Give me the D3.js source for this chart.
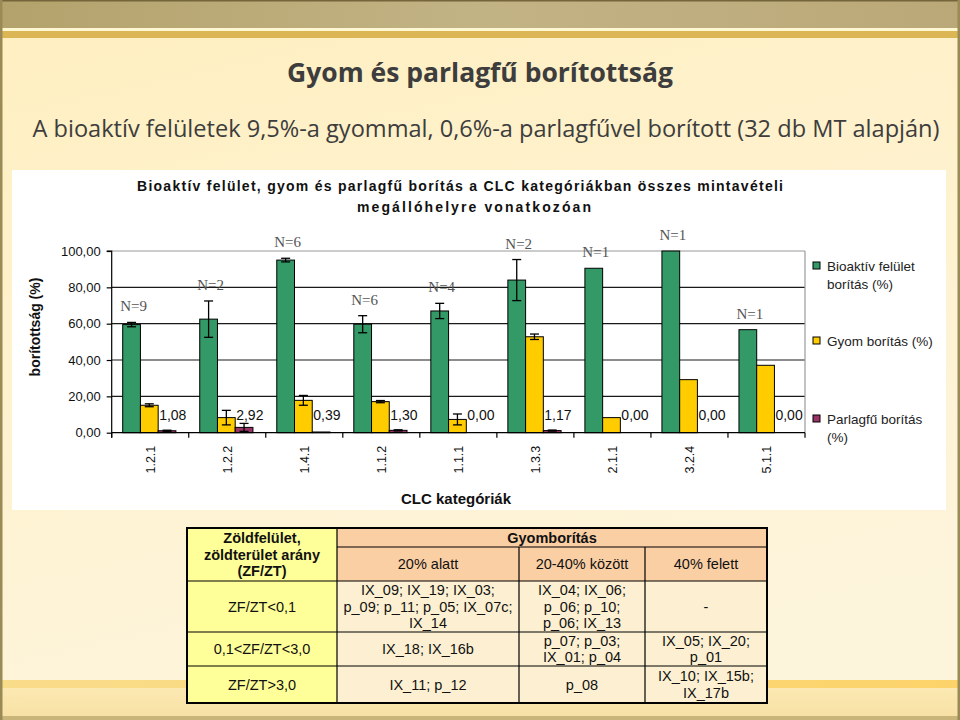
<!DOCTYPE html>
<html><head><meta charset="utf-8">
<script src="https://cdn.jsdelivr.net/npm/d3@7/dist/d3.min.js"></script>
<style>body{margin:0;background:#fff}svg{display:block}</style>
</head><body><svg id="c" width="960" height="720"></svg>
<script>
// ---------- DATA ----------
const categories   = ["1.2.1","1.2.2","1.4.1","1.1.2","1.1.1","1.3.3","2.1.1","3.2.4","5.1.1"];
const bioaktiv     = [59.5, 62.5, 95.0, 59.7, 67.0, 84.0, 90.5, 100.0, 56.7];
const bioaktivErr  = [1.2, 10.0, 1.0, 4.7, 4.2, 11.3, 0, 0, 0];
const gyom         = [15.1, 8.3, 17.8, 17.1, 7.3, 52.8, 8.3, 29.2, 37.1];
const gyomErr      = [0.8, 4.0, 2.7, 0.6, 3.0, 1.5, 0, 0, 0];
const parlagfu     = [1.08, 2.92, 0.39, 1.30, 0.00, 1.17, 0.00, 0.00, 0.00];
const parlagfuErr  = [0.3, 2.2, 0, 0.3, 0, 0.3, 0, 0, 0];
const nLabels      = ["N=9","N=2","N=6","N=6","N=4","N=2","N=1","N=1","N=1"];
const seriesNames  = ["Bioaktív felület borítás (%)","Gyom borítás (%)","Parlagfű borítás (%)"];
const yTicks       = [0, 20, 40, 60, 80, 100];

const mainTitle    = "Gyom és parlagfű borítottság";
const subTitle     = "A bioaktív felületek 9,5%-a gyommal, 0,6%-a parlagfűvel borított (32 db MT alapján)";
const chartTitle1  = "Bioaktív felület, gyom és parlagfű borítás a CLC kategóriákban összes mintavételi";
const chartTitle2  = "megállóhelyre vonatkozóan";
const yTitle       = "borítottság (%)";
const xTitle       = "CLC kategóriák";

const tableCorner   = ["Zöldfelület,","zöldterület arány","(ZF/ZT)"];
const tableGroup    = "Gyomborítás";
const tableColHeads = ["20% alatt","20-40% között","40% felett"];
const tableRowHeads = ["ZF/ZT<0,1","0,1<ZF/ZT<3,0","ZF/ZT>3,0"];
const tableCells = [
  [["IX_09; IX_19; IX_03;","p_09; p_11; p_05; IX_07c;","IX_14"], ["IX_04; IX_06;","p_06; p_10;","p_06; IX_13"], ["-"]],
  [["IX_18; IX_16b"], ["p_07; p_03;","IX_01; p_04"], ["IX_05; IX_20;","p_01"]],
  [["IX_11; p_12"], ["p_08"], ["IX_10; IX_15b;","IX_17b"]]
];

// ---------- DRAW ----------
const svg = d3.select("#c");
const defs = svg.append("defs");
const bgG = defs.append("linearGradient").attr("id","bg").attr("x1",0).attr("y1",0).attr("x2",0.3).attr("y2",1);
bgG.append("stop").attr("offset","0%").attr("stop-color","#ffefc0");
bgG.append("stop").attr("offset","100%").attr("stop-color","#fdf4dc");
const banG = defs.append("linearGradient").attr("id","ban").attr("x1",0).attr("y1",0).attr("x2",1).attr("y2",0);
banG.append("stop").attr("offset","0%").attr("stop-color","#b3a26b");
banG.append("stop").attr("offset","50%").attr("stop-color","#c2b385");
banG.append("stop").attr("offset","100%").attr("stop-color","#bba878");
const botG = defs.append("linearGradient").attr("id","bot").attr("x1",0).attr("y1",0).attr("x2",0).attr("y2",1);
botG.append("stop").attr("offset","0%").attr("stop-color","#fbe6a8");
botG.append("stop").attr("offset","100%").attr("stop-color","#f6dc98");
const bandG = defs.append("linearGradient").attr("id","band").attr("x1",0).attr("y1",0).attr("x2",1).attr("y2",0);
bandG.append("stop").attr("offset","0%").attr("stop-color","#f9dc8a");
bandG.append("stop").attr("offset","100%").attr("stop-color","#fcd36a");

svg.append("rect").attr("width",960).attr("height",720).attr("fill","url(#bg)");
svg.append("rect").attr("x",0).attr("y",0).attr("width",960).attr("height",28).attr("fill","url(#ban)");
svg.append("rect").attr("x",0).attr("y",0).attr("width",960).attr("height",1.5).attr("fill","#75653a");
svg.append("rect").attr("x",0).attr("y",28).attr("width",960).attr("height",3).attr("fill","#fff7d2");
svg.append("rect").attr("x",0).attr("y",31).attr("width",960).attr("height",7).attr("fill","#dcb555");
svg.append("rect").attr("x",0).attr("y",688).attr("width",960).attr("height",28).attr("fill","url(#bot)").attr("opacity",0.8);
svg.append("rect").attr("x",0).attr("y",680).attr("width",960).attr("height",8).attr("fill","url(#band)");
svg.append("rect").attr("x",0).attr("y",716).attr("width",960).attr("height",4).attr("fill","#c9b57a");
svg.append("rect").attr("x",0).attr("y",0).attr("width",2.5).attr("height",720).attr("fill","#9a8a55");
svg.append("rect").attr("x",957.5).attr("y",0).attr("width",2.5).attr("height",720).attr("fill","#9a8a55");

// titles
const titleFont = "'Open Sans', 'Noto Sans', sans-serif";
svg.append("text").attr("x",480).attr("y",82).attr("text-anchor","middle")
  .attr("font-family",titleFont).attr("font-weight","bold").attr("font-size",27)
  .attr("fill","#3d3d3d").attr("textLength",386).attr("lengthAdjust","spacingAndGlyphs").text(mainTitle);
svg.append("text").attr("x",486).attr("y",137).attr("text-anchor","middle")
  .attr("font-family",titleFont).attr("font-size",24)
  .attr("fill","#3d3d3d").attr("textLength",907).attr("lengthAdjust","spacingAndGlyphs").text(subTitle);

// chart box
svg.append("rect").attr("x",12).attr("y",170).attr("width",934).attr("height",340).attr("fill","#ffffff");

const arial = "Arial, 'Liberation Sans', sans-serif";
svg.append("text").attr("x",460).attr("y",191).attr("text-anchor","middle")
  .attr("font-family",arial).attr("font-weight","bold").attr("font-size",14).attr("fill","#111")
  .attr("textLength",646).attr("lengthAdjust","spacing").text(chartTitle1);
svg.append("text").attr("x",474).attr("y",212).attr("text-anchor","middle")
  .attr("font-family",arial).attr("font-weight","bold").attr("font-size",14).attr("fill","#111")
  .attr("textLength",234).attr("lengthAdjust","spacing").text(chartTitle2);

const plot = {left:111.7, right:805, top:251, bottom:432.7};
const x = d3.scaleBand().domain(categories).range([plot.left, plot.right]).padding(0);
const xs = d3.scaleBand().domain([0,1,2]).range([11, 64.2]).padding(0);
const y = d3.scaleLinear().domain([0,100]).range([plot.bottom, plot.top]);

const g = svg.append("g");
// grid
g.selectAll("line.grid").data(yTicks.filter(d => d > 0 && d < 100)).join("line")
  .attr("x1",plot.left).attr("x2",plot.right).attr("y1",d=>y(d)).attr("y2",d=>y(d))
  .attr("stroke","#1a1a1a").attr("stroke-width",1.2);
g.append("line").attr("x1",plot.left).attr("x2",plot.right).attr("y1",y(100)).attr("y2",y(100)).attr("stroke","#9a9a9a").attr("stroke-width",1.2);
g.append("line").attr("x1",plot.right).attr("x2",plot.right).attr("y1",y(100)).attr("y2",y(0)).attr("stroke","#9a9a9a").attr("stroke-width",1.2);

const colors = ["#339966","#ffcc00","#993366"];
const series = [
  {vals: bioaktiv, err: bioaktivErr},
  {vals: gyom, err: gyomErr},
  {vals: parlagfu, err: parlagfuErr}
];
series.forEach((s, si) => {
  const gg = g.append("g");
  gg.selectAll("rect").data(categories).join("rect")
    .attr("x", c => x(c) + xs(si)).attr("width", xs.bandwidth())
    .attr("y", (c,i) => y(s.vals[i])).attr("height", (c,i) => y(0) - y(s.vals[i]))
    .attr("fill", colors[si]).attr("stroke","#000").attr("stroke-width",1);
  categories.forEach((c,i) => {
    const e = s.err[i];
    if (!e) return;
    const cx = x(c) + xs(si) + xs.bandwidth()/2;
    const y1 = y(s.vals[i] + e), y2 = y(Math.max(0, s.vals[i] - e));
    gg.append("line").attr("x1",cx).attr("x2",cx).attr("y1",y1).attr("y2",y2).attr("stroke","#000").attr("stroke-width",1.3);
    [y1,y2].forEach(yy => gg.append("line").attr("x1",cx-4.5).attr("x2",cx+4.5).attr("y1",yy).attr("y2",yy).attr("stroke","#000").attr("stroke-width",1.3));
  });
});

// value labels for parlagfű
g.selectAll("text.val").data(categories).join("text")
  .attr("x", c => x(c) + xs(2) + 1).attr("y", y(0) - 13)
  .attr("font-family",arial).attr("font-size",14).attr("fill","#111")
  .text((c,i) => d3.format(".2f")(parlagfu[i]).replace(".", ","));

// N labels
g.selectAll("text.n").data(categories).join("text")
  .attr("x", c => x(c) + xs(0) + xs.bandwidth()/2 + 2)
  .attr("y", (c,i) => y(bioaktiv[i] + bioaktivErr[i]) - 11)
  .attr("text-anchor","middle").attr("font-family","'Liberation Serif','Times New Roman',serif")
  .attr("font-size",15).attr("fill","#555").text((c,i) => nLabels[i]);

// y axis
const yAxis = g.append("g").attr("transform",`translate(${plot.left},0)`)
  .call(d3.axisLeft(y).tickValues(yTicks).tickSize(5).tickPadding(6).tickFormat(d => d3.format(".2f")(d).replace(".", ",")));
yAxis.select(".domain").attr("stroke","#000").attr("stroke-width",1.2).attr("d",`M-5,${y(100)}H0V${y(0)+5}`);
yAxis.selectAll(".tick line").attr("stroke","#000").attr("stroke-width",1.2);
yAxis.selectAll(".tick text").attr("font-family",arial).attr("font-size",13).attr("fill","#111");

// x axis
const xAxis = g.append("g").attr("transform",`translate(0,${plot.bottom})`)
  .call(d3.axisBottom(x).tickSize(0).tickPadding(0));
xAxis.select(".domain").attr("stroke","#000").attr("stroke-width",1.2).attr("d",`M${plot.left},0H${plot.right}`);
xAxis.selectAll(".tick text").attr("font-family",arial).attr("font-size",12.5).attr("fill","#111")
  .attr("text-anchor","end").attr("dy","0.35em").attr("transform","translate(0,13) rotate(-90)").attr("x",0).attr("y",0);
const bounds = categories.map(c => x(c)).concat([x(categories[categories.length-1]) + x.step()]);
xAxis.selectAll("line.bt").data(bounds).join("line")
  .attr("x1",d=>d).attr("x2",d=>d).attr("y1",0).attr("y2",5).attr("stroke","#000").attr("stroke-width",1.2);

// axis titles
svg.append("text").attr("transform",`translate(40,327) rotate(-90)`).attr("text-anchor","middle")
  .attr("font-family",arial).attr("font-weight","bold").attr("font-size",14).attr("fill","#111").text(yTitle);
svg.append("text").attr("x",456).attr("y",504).attr("text-anchor","middle")
  .attr("font-family",arial).attr("font-weight","bold").attr("font-size",15).attr("fill","#111").text(xTitle);

// legend
const legY = [266, 341, 419];
const legLines = [["Bioaktív felület", "borítás (%)"], ["Gyom borítás (%)"], ["Parlagfű borítás", "(%)"]];
const leg = svg.append("g");
seriesNames.forEach((name, i) => {
  leg.append("rect").attr("x",813).attr("y",legY[i]-4).attr("width",7).attr("height",7)
    .attr("fill",colors[i]).attr("stroke","#000").attr("stroke-width",1);
  legLines[i].forEach((l, li) => leg.append("text").attr("x",827).attr("y",legY[i] + 4.5 + li*18)
    .attr("font-family",arial).attr("font-size",13.5).attr("fill","#222").text(l));
});

// ---------- TABLE ----------
const colX = [187, 337, 519, 645, 767];
const rowY = [528, 547, 581, 632, 666, 703];
const lh = 16.5;
const T = svg.append("g");
const fillCorner = "#ffff99", fillHead = "#fbcfa4", fillCell = "#fdf0d2";
T.append("rect").attr("x",colX[0]).attr("y",rowY[0]).attr("width",colX[1]-colX[0]).attr("height",rowY[5]-rowY[0]).attr("fill",fillCorner);
T.append("rect").attr("x",colX[1]).attr("y",rowY[0]).attr("width",colX[4]-colX[1]).attr("height",rowY[2]-rowY[0]).attr("fill",fillHead);
T.append("rect").attr("x",colX[1]).attr("y",rowY[2]).attr("width",colX[4]-colX[1]).attr("height",rowY[5]-rowY[2]).attr("fill",fillCell);

function cellText(cx, cy, lines, bold) {
  const n = lines.length;
  lines.forEach((l, i) => T.append("text").attr("x",cx).attr("y",cy + (i - (n-1)/2)*lh + 5)
    .attr("text-anchor","middle").attr("font-family",arial).attr("font-size",14.5)
    .attr("font-weight", bold ? "bold" : "normal").attr("fill","#111").text(l));
}
cellText((colX[0]+colX[1])/2, (rowY[0]+rowY[2])/2, tableCorner, true);
cellText((colX[1]+colX[4])/2, (rowY[0]+rowY[1])/2, [tableGroup], true);
tableColHeads.forEach((h, j) => cellText((colX[j+1]+colX[j+2])/2, (rowY[1]+rowY[2])/2, [h], false));
tableRowHeads.forEach((h, r) => {
  cellText((colX[0]+colX[1])/2, (rowY[r+2]+rowY[r+3])/2, [h], false);
  tableCells[r].forEach((lines, j) => cellText((colX[j+1]+colX[j+2])/2, (rowY[r+2]+rowY[r+3])/2, lines, false));
});
// borders
const ln = (x1,y1,x2,y2,w) => T.append("line").attr("x1",x1).attr("y1",y1).attr("x2",x2).attr("y2",y2).attr("stroke","#000").attr("stroke-width",w);
ln(colX[1], rowY[1], colX[4], rowY[1], 1.2);
[2,3,4].forEach(r => ln(colX[0], rowY[r], colX[4], rowY[r], 1.2));
ln(colX[1], rowY[0], colX[1], rowY[5], 1.2);
ln(colX[2], rowY[1], colX[2], rowY[5], 1.2);
ln(colX[3], rowY[1], colX[3], rowY[5], 1.2);
T.append("rect").attr("x",colX[0]).attr("y",rowY[0]).attr("width",colX[4]-colX[0]).attr("height",rowY[5]-rowY[0])
  .attr("fill","none").attr("stroke","#000").attr("stroke-width",2);
</script>
</body></html>
